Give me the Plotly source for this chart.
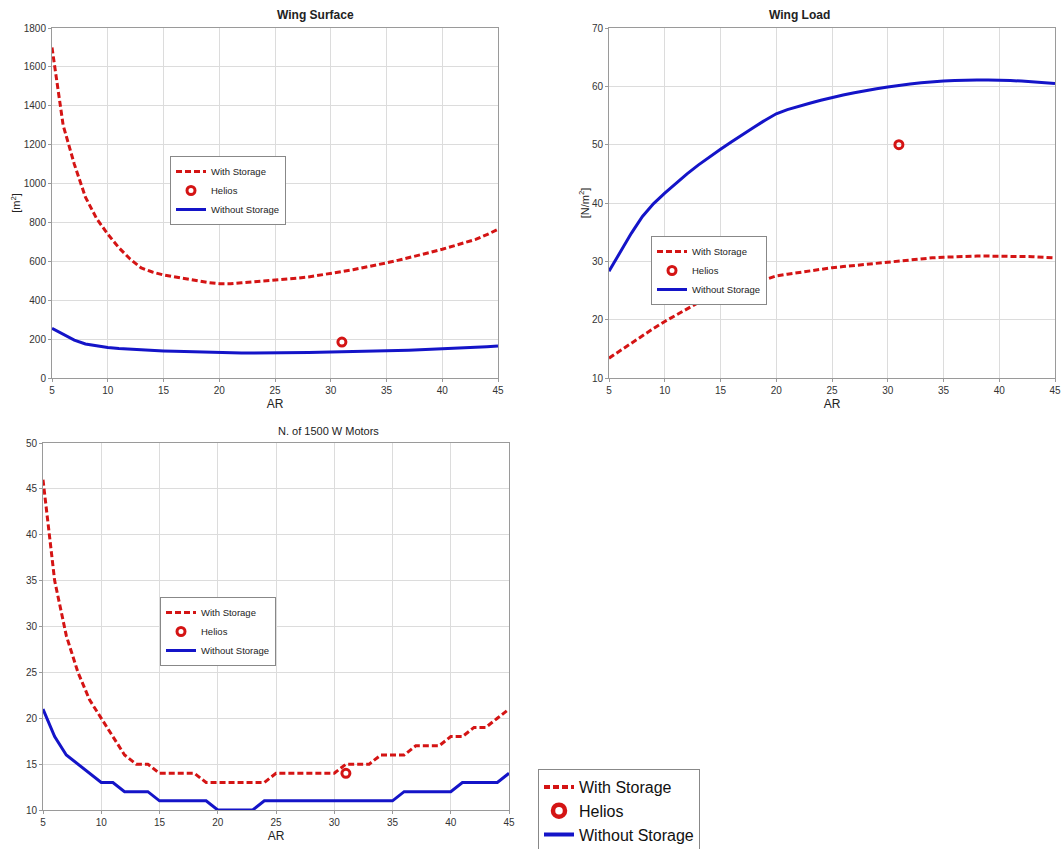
import plotly.graph_objects as go

AR = list(range(5, 46))

surf_with = [1700, 1300, 1100, 930, 820, 740, 670, 612, 566, 545, 530, 520, 510, 500, 491, 485, 485, 490, 494, 498,
             502, 507, 513, 520, 528, 537, 547, 557, 568, 580, 592, 605, 618, 632, 647, 662, 678, 695, 713, 737, 765]
surf_without = [255, 225, 195, 175, 165, 157, 152, 148, 145, 142, 139, 137, 135, 133, 131, 129, 128, 128, 128, 128,
                129, 130, 130, 131, 132, 133, 134, 135, 136, 138, 139, 141, 143, 145, 147, 150, 152, 155, 158, 161, 165]

load_without = [28.3, 31.5, 34.8, 37.7, 39.9, 41.7, 43.4, 45.0, 46.5, 47.9, 49.2, 50.5, 51.8, 53.0, 54.2, 55.3,
                56.0, 56.6, 57.1, 57.6, 58.1, 58.5, 58.9, 59.3, 59.6, 59.9, 60.2, 60.4, 60.6, 60.8, 60.9, 61.0,
                61.1, 61.1, 61.1, 61.1, 61.0, 60.9, 60.8, 60.7, 60.5]
load_with = [13.4, 14.7, 16.0, 17.2, 18.5, 19.7, 20.8, 21.9, 22.9, 23.6, 24.3, 25.0, 25.6, 26.2, 26.9, 27.5,
             27.8, 28.1, 28.4, 28.7, 28.9, 29.1, 29.3, 29.5, 29.7, 29.9, 30.1, 30.3, 30.4, 30.6, 30.7, 30.8,
             30.8, 30.9, 30.9, 30.9, 30.9, 30.8, 30.8, 30.7, 30.6]

motors_with = [46, 35, 29, 25, 22, 20, 18, 16, 15, 15, 14, 14, 14, 14, 13, 13, 13, 13, 13, 13,
               14, 14, 14, 14, 14, 14, 15, 15, 15, 16, 16, 16, 17, 17, 17, 18, 18, 19, 19, 20, 21]
motors_without = [21, 18, 16, 15, 14, 13, 13, 12, 12, 12, 11, 11, 11, 11, 11, 10, 10, 10, 10, 11,
                  11, 11, 11, 11, 11, 11, 11, 11, 11, 11, 11, 12, 12, 12, 12, 12, 13, 13, 13, 13, 14]

helios_ar = [31]
helios_surf = [185]
helios_load = [50]
helios_motors = [14]

titles = ["Wing Surface", "Wing Load", "N. of 1500 W Motors"]
names = ["With Storage", "Helios", "Without Storage"]

RED = "#d41414"
BLUE = "#1414c8"
W, H = 1061, 849

fig = go.Figure()

def add_panel(xa, ya, leg, w, h, hy, msize):
    fig.add_trace(go.Scatter(x=AR, y=w, mode="lines", name=names[0], xaxis=xa, yaxis=ya, legend=leg,
                             line=dict(color=RED, width=3, dash="6px,3px")))
    fig.add_trace(go.Scatter(x=helios_ar, y=hy, mode="markers", name=names[1], xaxis=xa, yaxis=ya, legend=leg,
                             marker=dict(symbol="circle-open", color=RED, size=msize, line=dict(width=3, color=RED))))
    fig.add_trace(go.Scatter(x=AR, y=h, mode="lines", name=names[2], xaxis=xa, yaxis=ya, legend=leg,
                             line=dict(color=BLUE, width=3)))

add_panel("x", "y", "legend", surf_with, surf_without, helios_surf, 8)
add_panel("x2", "y2", "legend2", load_with, load_without, helios_load, 8)
add_panel("x3", "y3", "legend3", motors_with, motors_without, helios_motors, 8)

# big stand-alone legend entries
fig.add_trace(go.Scatter(x=[None], y=[None], mode="lines", name=names[0], xaxis="x3", yaxis="y3", legend="legend4",
                         line=dict(color=RED, width=4, dash="6px,3px")))
fig.add_trace(go.Scatter(x=[None], y=[None], mode="markers", name=names[1], xaxis="x3", yaxis="y3", legend="legend4",
                         marker=dict(symbol="circle-open", color=RED, size=12, line=dict(width=4.5, color=RED))))
fig.add_trace(go.Scatter(x=[None], y=[None], mode="lines", name=names[2], xaxis="x3", yaxis="y3", legend="legend4",
                         line=dict(color=BLUE, width=4)))

def fx(p):
    return p / W

def fy(p):
    return 1 - p / H

def px_x(a, b):
    return [fx(a), fx(b)]

def px_y(top, bottom):
    return [fy(bottom), fy(top)]

FONT = "Liberation Sans, Arial, sans-serif"
tickfont = dict(family=FONT, size=10, color="#333333")

def xax(dom, anchor):
    return dict(domain=dom, anchor=anchor, range=[5, 45], dtick=5, tick0=5, showgrid=True, gridcolor="#dcdcdc",
                gridwidth=1, zeroline=False, showline=True, linecolor="#9a9a9a", mirror=True, ticks="outside",
                ticklen=3, tickcolor="#9a9a9a", tickfont=tickfont, automargin=False,
                title=dict(text="AR", font=dict(family=FONT, size=12, color="#222"), standoff=4))

def yax(dom, anchor, rng, dt, title):
    d = dict(domain=dom, anchor=anchor, range=rng, dtick=dt, tick0=rng[0], showgrid=True, gridcolor="#dcdcdc",
             gridwidth=1, zeroline=False, showline=True, linecolor="#9a9a9a", mirror=True, ticks="outside",
             ticklen=3, tickcolor="#9a9a9a", tickfont=tickfont, automargin=False)
    if title:
        d["title"] = dict(text=title, font=dict(family=FONT, size=11, color="#222"), standoff=0)
    return d

legfont = dict(family=FONT, size=9.5, color="#222")

def leg(xp, yp, font):
    return dict(x=fx(xp), y=fy(yp), xanchor="left", yanchor="top", bgcolor="white",
                bordercolor="#888888", borderwidth=1, font=font, tracegroupgap=0, itemwidth=30)

fig.update_layout(
    width=W, height=H,
    margin=dict(l=0, r=0, t=0, b=0, autoexpand=False),
    paper_bgcolor="white", plot_bgcolor="white",
    font=dict(family=FONT),
    xaxis=xax(px_x(52, 498), "y"),
    yaxis=yax(px_y(28, 378), "x", [0, 1800], 200, "[m<sup>2</sup>]"),
    xaxis2=xax(px_x(609, 1055), "y2"),
    yaxis2=yax(px_y(28, 378), "x2", [10, 70], 10, "[N/m<sup>2</sup>]"),
    xaxis3=xax(px_x(43, 509), "y3"),
    yaxis3=yax(px_y(443, 810), "x3", [10, 50], 5, None),
    legend=leg(170, 156, legfont),
    legend2=leg(651, 236, legfont),
    legend3=leg(160, 597, legfont),
    legend4=leg(538, 769, dict(family=FONT, size=16, color="#111")),
    showlegend=True,
    annotations=[
        dict(text="<b>" + titles[0] + "</b>", x=fx(275), y=fy(15), xref="paper", yref="paper", yanchor="middle",
             showarrow=False, font=dict(family=FONT, size=12, color="#222")),
        dict(text="<b>" + titles[1] + "</b>", x=fx(832), y=fy(15), xref="paper", yref="paper", yanchor="middle",
             showarrow=False, font=dict(family=FONT, size=12, color="#222")),
        dict(text=titles[2], x=fx(276), y=fy(431), xref="paper", yref="paper", yanchor="middle",
             showarrow=False, font=dict(family=FONT, size=11, color="#222")),
    ],
)

post = "document.body.style.margin='0';document.body.style.overflow='hidden';"
fig.write_html("out.html", config={"displayModeBar": False}, post_script=post)
